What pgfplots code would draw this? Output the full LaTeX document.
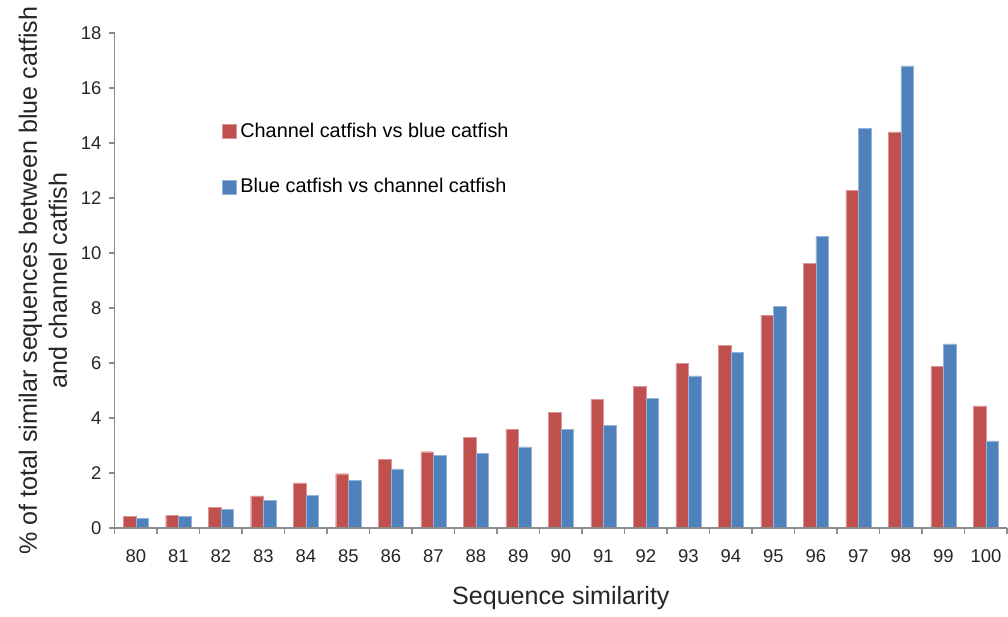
\documentclass[border=0pt]{standalone}
\usepackage{pgfplots}
\pgfplotsset{compat=1.18}
\usepackage{fontspec}
\setmainfont{Liberation Sans}
\definecolor{cred}{HTML}{C0504D}
\definecolor{cblue}{HTML}{4F81BD}
\definecolor{axgray}{HTML}{8C8C8C}

\pgfplotstableread{
sim  cb    bc
80   0.44  0.35
81   0.46  0.43
82   0.77  0.68
83   1.18  1.01
84   1.65  1.20
85   1.98  1.75
86   2.50  2.16
87   2.78  2.65
88   3.31  2.71
89   3.59  2.96
90   4.21  3.59
91   4.68  3.75
92   5.16  4.73
93   6.00  5.54
94   6.64  6.39
95   7.73  8.05
96   9.62  10.60
97   12.28 14.54
98   14.40 16.80
99   5.89  6.70
100  4.45  3.17
}\simdata

\begin{document}
\begin{tikzpicture}
\begin{axis}[
    scale only axis,
    width=445pt, height=247pt,
    axis on top,
    ymin=0, ymax=18,
    ytick={0,2,...,18},
    xmin=79.5, xmax=100.5,
    xtick={80,...,100},
    minor xtick={79.5,80.5,...,100.5},
    major x tick style={draw=none},
    axis x line*=bottom,
    axis y line*=left,
    axis line style={axgray, line width=0.8pt},
    tick style={axgray, line width=0.8pt},
    major tick length=3pt,
    minor tick length=3pt,
    tick align=outside,
    ybar=0pt,
    bar width=6.3pt,
    /pgf/number format/assume math mode=true,
    tick label style={font=\fontsize{9.2}{11}\selectfont, text=black!85},
    xticklabel style={yshift=-4pt},
    xlabel={Sequence similarity},
    xlabel style={font=\fontsize{12.5}{15}\selectfont, text=black!85, yshift=-5pt},
    ylabel={\% of total similar sequences between blue catfish\\and channel catfish},
    ylabel style={font=\fontsize{12.5}{15}\selectfont, text=black!85, align=center, yshift=0pt},
    legend style={at={(0.113,0.835)}, anchor=north west, draw=none, fill=none,
        font=\fontsize{9.9}{11}\selectfont, row sep=15pt},
    legend cell align=left,
    legend image code/.code={\fill[#1] (0pt,-3.4pt) rectangle (7pt,3.6pt);},
]
\addplot[fill=cred, draw=cred!60!white, line width=0.2pt] table[x=sim, y=cb] {\simdata};
\addplot[fill=cblue, draw=cblue!60!white, line width=0.2pt] table[x=sim, y=bc] {\simdata};
\legend{Channel catfish vs blue catfish, Blue catfish vs channel catfish}
\end{axis}
% small blank margin on the left, as in the reference
\path (current bounding box.south west) ++(-6pt,0) coordinate (lm);
\useasboundingbox (lm) rectangle (current bounding box.north east);
\end{tikzpicture}
\end{document}
